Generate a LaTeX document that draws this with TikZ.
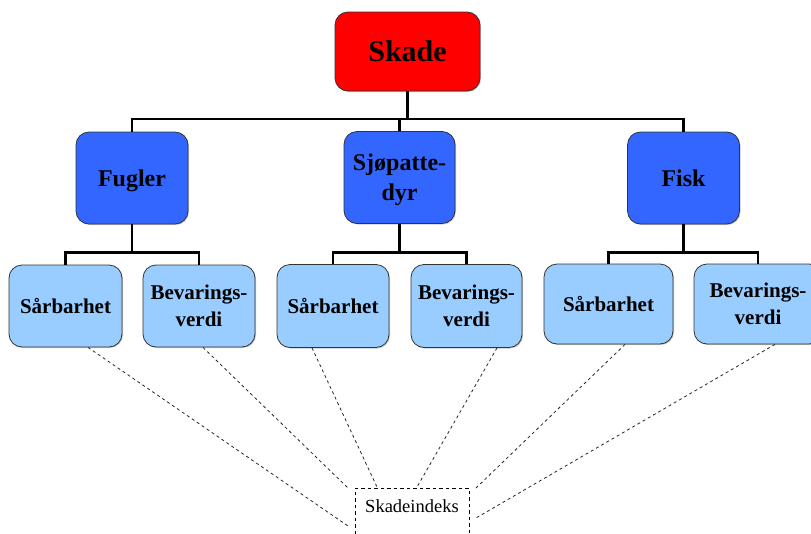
\documentclass[tikz,border=0pt]{standalone}
\usepackage{fontspec}
\setmainfont{Liberation Serif}
\usetikzlibrary{shadows}
\definecolor{topred}{RGB}{255,0,0}
\definecolor{midblue}{RGB}{51,102,255}
\definecolor{lowblue}{RGB}{153,204,255}
\begin{document}
\begin{tikzpicture}[x=1pt,y=-1pt,
  box/.style={draw=black!80, line width=0.8pt, rounded corners=13pt, align=center,
    inner sep=2pt, font=\bfseries,
    drop shadow={shadow xshift=1pt, shadow yshift=-1pt, fill=black!35, opacity=0.6}},
  topbox/.style={box, fill=topred, font=\bfseries\fontsize{30}{36}\selectfont},
  midbox/.style={box, fill=midblue, font=\bfseries\fontsize{24}{30}\selectfont},
  lowbox/.style={box, fill=lowblue, font=\bfseries\fontsize{21}{27}\selectfont},
  tree/.style={line width=2.6pt, black},
  link/.style={line width=0.8pt, black!85, dash pattern=on 3pt off 3pt},
  idxbox/.style={draw, line width=0.8pt, dash pattern=on 3.5pt off 3pt, anchor=north,
    minimum width=114pt, inner ysep=4pt, text height=20.5pt, text depth=26pt,
    font=\fontsize{18.5}{22}\selectfont}]
\useasboundingbox (0,0) rectangle (811,533);

% level 0
\node[topbox, minimum width=145pt, minimum height=79pt] (skade) at (407.5,51.5) {Skade};

% level 1
\node[midbox, minimum width=112pt, minimum height=92pt, text depth=0pt] (fugler) at (132,178) {Fugler};
\node[midbox, minimum width=111pt, minimum height=92pt, text depth=0pt] (sjo) at (399.5,177.5) {Sjøpatte-\\dyr};
\node[midbox, minimum width=112pt, minimum height=92pt] (fisk) at (683.5,178) {Fisk};

% level 2
\node[lowbox, minimum width=113pt, minimum height=82pt] (sar1) at (65.5,306) {Sårbarhet};
\node[lowbox, minimum width=112pt, minimum height=82pt] (bev1) at (199,306) {Bevarings-\\verdi};
\node[lowbox, minimum width=112pt, minimum height=83pt] (sar2) at (333,306) {Sårbarhet};
\node[lowbox, minimum width=111pt, minimum height=83pt] (bev2) at (466.5,306) {Bevarings-\\verdi};
\node[lowbox, minimum width=129pt, minimum height=80pt] (sar3) at (608.5,304) {Sårbarhet};
\node[lowbox, minimum width=128pt, minimum height=80pt] (bev3) at (758,304) {Bevarings-\\verdi};

% index box
\node[idxbox] (idx) at (412,488) {Skadeindeks};

% tree connectors
\coordinate (b0) at (407.5,119);
\coordinate (b1) at (132,252.5);
\coordinate (b2) at (399.5,252.5);
\coordinate (b3) at (683.5,252.5);
\begin{scope}[tree]
\draw (skade.south) -- (b0);
\draw (fugler.north) |- (b0) -| (fisk.north);
\draw (sjo.north) -- (sjo.north |- b0);
\draw (fugler.south) -- (b1);
\draw (sar1.north) |- (b1) -| (bev1.north);
\draw (sjo.south) -- (b2);
\draw (sar2.north) |- (b2) -| (bev2.north);
\draw (fisk.south) -- (b3);
\draw (sar3.north) |- (b3) -| (bev3.north);
\end{scope}

% dashed links to index
\coordinate (s1) at ([xshift=22.5pt]sar1.south);
\coordinate (s2) at ([xshift=4pt]bev1.south);
\coordinate (s3) at ([xshift=-21pt]sar2.south);
\coordinate (s4) at ([xshift=30.5pt]bev2.south);
\coordinate (s5) at ([xshift=16.5pt]sar3.south);
\coordinate (s6) at ([xshift=17pt]bev3.south);
\coordinate (e1) at (348,526);
\coordinate (e2) at (348,488);
\coordinate (e3) at (377,487);
\coordinate (e4) at (417,487);
\coordinate (e5) at (476,488);
\coordinate (e6) at (476,518);
\draw[link] (s1) -- (e1);
\draw[link] (s2) -- (e2);
\draw[link] (s3) -- (e3);
\draw[link] (s4) -- (e4);
\draw[link] (s5) -- (e5);
\draw[link] (s6) -- (e6);
\end{tikzpicture}
\end{document}
